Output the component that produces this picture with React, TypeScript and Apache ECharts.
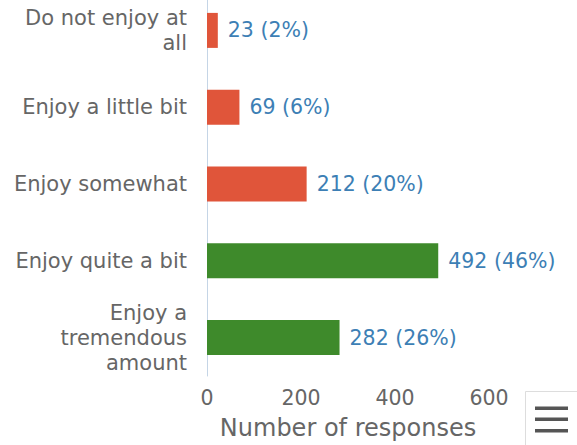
import React, { useEffect, useRef } from "react";
import * as echarts from "echarts";

const categories = [
  "Do not enjoy at\nall",
  "Enjoy a little bit",
  "Enjoy somewhat",
  "Enjoy quite a bit",
  "Enjoy a\ntremendous\namount",
];
const counts = [23, 69, 212, 492, 282];
const percents = [2, 6, 20, 46, 26];
const barColors = ["#e0553a", "#e0553a", "#e0553a", "#3e8a2b", "#3e8a2b"];
const xTicks = [0, 200, 400, 600];

const SHIFT = 8;

export default function App() {
  const ref = useRef<HTMLDivElement>(null);
  useEffect(() => {
    if (!ref.current) return;
    const chart = echarts.init(ref.current, null, { renderer: "svg" });
    const font = "'DejaVu Sans', sans-serif";
    chart.setOption({
      animation: false,
      backgroundColor: "#ffffff",
      textStyle: { fontFamily: font },
      grid: { left: 207, width: 282, top: 0, height: 396, containLabel: false },
      xAxis: {
        type: "value",
        min: xTicks[0],
        max: xTicks[xTicks.length - 1],
        interval: 200,
        axisLine: { show: false },
        axisTick: { show: false },
        splitLine: { show: false },
        axisLabel: { color: "#666", fontSize: 20.5, margin: 11, fontFamily: font },
        name: "Number of responses",
        nameLocation: "middle",
        nameGap: 40,
        nameTextStyle: { color: "#666", fontSize: 24, fontFamily: font },
      },
      yAxis: {
        type: "category",
        inverse: true,
        data: categories,
        axisLine: { show: true, lineStyle: { color: "#c5d5e6", width: 1 } },
        axisTick: { show: false },
        axisLabel: {
          color: "#666",
          fontSize: 21,
          margin: 20,
          lineHeight: 25,
          align: "right",
          fontFamily: font,
        },
      },
      series: [
        {
          type: "bar",
          barWidth: 35,
          data: counts.map((v, i) => ({ value: v, itemStyle: { color: barColors[i] } })),
          label: {
            show: true,
            position: "right",
            distance: 10,
            color: "#3d7fb5",
            fontSize: 20.5,
            fontFamily: font,
            formatter: (p: any) => `${counts[p.dataIndex]} (${percents[p.dataIndex]}%)`,
          },
        },
      ],
      graphic: [
        {
          type: "rect",
          shape: { x: 525.5, y: 391.5 + SHIFT, width: 60, height: 60 },
          style: { fill: "#fff", stroke: "#dddddd", lineWidth: 1 },
        },
        {
          type: "rect",
          shape: { x: 535, y: 406.5 + SHIFT, width: 33, height: 3.5 },
          style: { fill: "#555" },
        },
        {
          type: "rect",
          shape: { x: 535, y: 417.5 + SHIFT, width: 33, height: 3.5 },
          style: { fill: "#555" },
        },
        {
          type: "rect",
          shape: { x: 535, y: 429 + SHIFT, width: 33, height: 3.5 },
          style: { fill: "#555" },
        },
      ],
    });
    return () => chart.dispose();
  }, []);
  return (
    <div style={{ position: "fixed", left: 0, top: 0, width: 577, height: 445, overflow: "hidden" }}>
      <div
        ref={ref}
        style={{ position: "absolute", left: 0, top: -SHIFT, width: 577, height: 445 + SHIFT }}
      />
    </div>
  );
}
